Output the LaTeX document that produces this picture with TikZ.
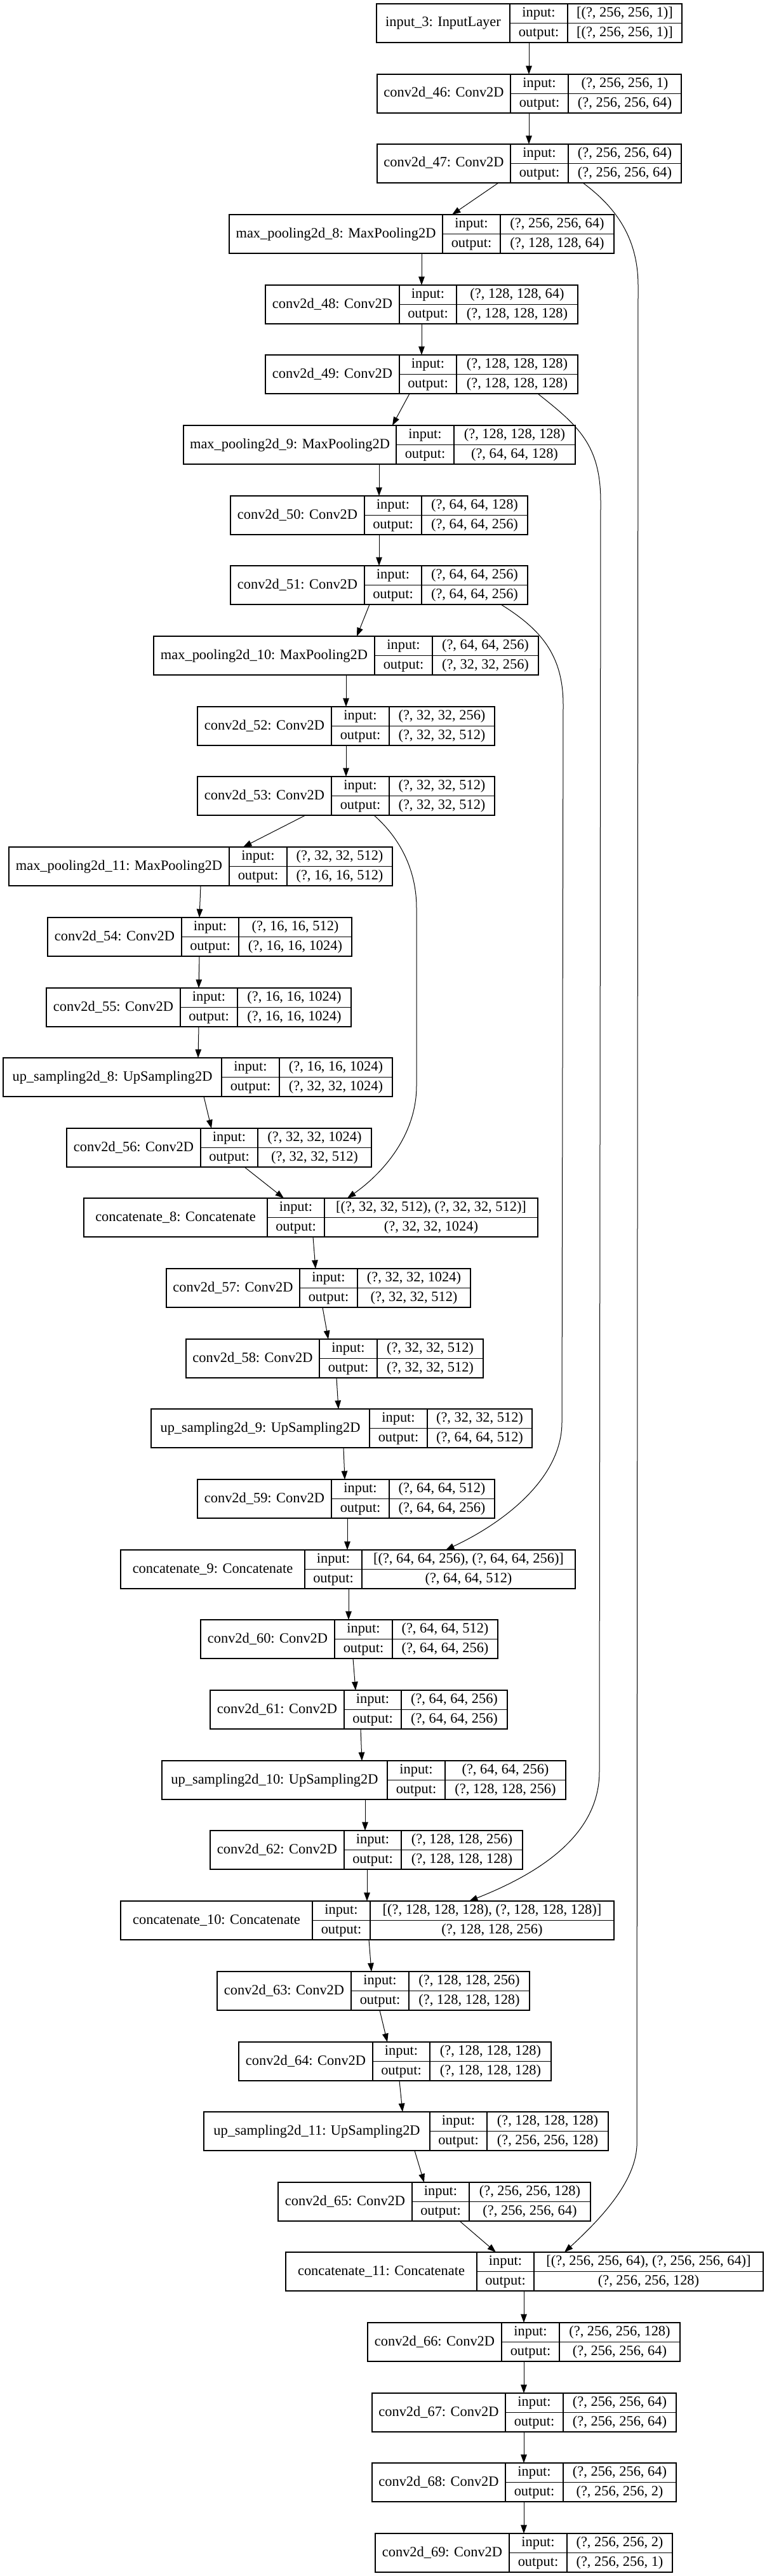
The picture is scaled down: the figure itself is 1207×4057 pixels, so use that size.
\documentclass[tikz,border=0pt]{standalone}
\usepackage{fontspec}
\setmainfont{Liberation Serif}
\usetikzlibrary{arrows.meta}

\tikzset{
  layerbox/.style={draw, line width=0.7pt, inner sep=0pt, outer sep=0pt, minimum height=30.5pt, anchor=north west},
  cell/.style={line width=0.7pt},
  txt/.style={inner sep=0pt, font=\fontsize{11.2}{13}\selectfont, text height=8pt, text depth=2.5pt},
  edge/.style={-{Triangle[length=6.7pt, width=4.8pt]}, line width=0.5pt},
}

% one layer record: name, left, split 1, split 2, right, top, label, input, output
\newcommand{\layer}[9]{%
  \pgfmathsetmacro\cellL{(#2+#3)/2}%
  \pgfmathsetmacro\cellP{(#3+#4)/2}%
  \pgfmathsetmacro\cellV{(#4+#5)/2}%
  \pgfmathsetmacro\boxW{(#5-#2)*0.5}%
  \node[layerbox, minimum width=\boxW pt] (#1) at (#2,#6) {};
  \draw[cell] (#3,0 |- #1.north) -- (#3,0 |- #1.south);
  \draw[cell] (#4,0 |- #1.north) -- (#4,0 |- #1.south);
  \draw[cell] (#3,0 |- #1.center) -- (#1.east);
  \node[txt] (#1-name) at (\cellL,0 |- #1.center) {#7};
  \node[txt] (#1-in) at (\cellP,#6+15.25) {input:};
  \node[txt] (#1-out) at (\cellP,#6+45.75) {output:};
  \node[txt] (#1-inv) at (\cellV,#6+15.25) {#8};
  \node[txt] (#1-outv) at (\cellV,#6+45.75) {#9};
}

\begin{document}
\begin{tikzpicture}[x=0.5pt, y=-0.5pt]
  \useasboundingbox (0,0) rectangle (1207,4057);
  % contracting path
  \layer{in3}{593}{803}{894}{1074}{6}{input\_3: InputLayer}{[(?, 256, 256, 1)]}{[(?, 256, 256, 1)]}
  \layer{c46}{594}{804}{895}{1073}{117}{conv2d\_46: Conv2D}{(?, 256, 256, 1)}{(?, 256, 256, 64)}
  \layer{c47}{594}{804}{895}{1073}{227}{conv2d\_47: Conv2D}{(?, 256, 256, 64)}{(?, 256, 256, 64)}
  \layer{mp8}{361}{697}{788}{967}{338}{max\_pooling2d\_8: MaxPooling2D}{(?, 256, 256, 64)}{(?, 128, 128, 64)}
  \layer{c48}{418}{629}{719}{910}{449}{conv2d\_48: Conv2D}{(?, 128, 128, 64)}{(?, 128, 128, 128)}
  \layer{c49}{418}{629}{719}{910}{559}{conv2d\_49: Conv2D}{(?, 128, 128, 128)}{(?, 128, 128, 128)}
  \layer{mp9}{289}{624}{715}{906}{670}{max\_pooling2d\_9: MaxPooling2D}{(?, 128, 128, 128)}{(?, 64, 64, 128)}
  \layer{c50}{363}{574}{664}{831}{781}{conv2d\_50: Conv2D}{(?, 64, 64, 128)}{(?, 64, 64, 256)}
  \layer{c51}{363}{574}{664}{831}{891}{conv2d\_51: Conv2D}{(?, 64, 64, 256)}{(?, 64, 64, 256)}
  \layer{mp10}{242}{590}{681}{848}{1002}{max\_pooling2d\_10: MaxPooling2D}{(?, 64, 64, 256)}{(?, 32, 32, 256)}
  \layer{c52}{311}{522}{613}{779}{1113}{conv2d\_52: Conv2D}{(?, 32, 32, 256)}{(?, 32, 32, 512)}
  \layer{c53}{311}{522}{613}{779}{1223}{conv2d\_53: Conv2D}{(?, 32, 32, 512)}{(?, 32, 32, 512)}
  \layer{mp11}{14}{361}{452}{618}{1334}{max\_pooling2d\_11: MaxPooling2D}{(?, 32, 32, 512)}{(?, 16, 16, 512)}
  \layer{c54}{75}{286}{376}{554}{1445}{conv2d\_54: Conv2D}{(?, 16, 16, 512)}{(?, 16, 16, 1024)}
  \layer{c55}{73}{284}{374}{553}{1556}{conv2d\_55: Conv2D}{(?, 16, 16, 1024)}{(?, 16, 16, 1024)}
  % expanding path
  \layer{up8}{5}{349}{440}{618}{1666}{up\_sampling2d\_8: UpSampling2D}{(?, 16, 16, 1024)}{(?, 32, 32, 1024)}
  \layer{c56}{105}{316}{406}{585}{1777}{conv2d\_56: Conv2D}{(?, 32, 32, 1024)}{(?, 32, 32, 512)}
  \layer{cat8}{132}{421}{511}{847}{1887}{concatenate\_8: Concatenate}{[(?, 32, 32, 512), (?, 32, 32, 512)]}{(?, 32, 32, 1024)}
  \layer{c57}{262}{472}{563}{741}{1998}{conv2d\_57: Conv2D}{(?, 32, 32, 1024)}{(?, 32, 32, 512)}
  \layer{c58}{293}{503}{594}{761}{2109}{conv2d\_58: Conv2D}{(?, 32, 32, 512)}{(?, 32, 32, 512)}
  \layer{up9}{238}{582}{673}{838}{2219}{up\_sampling2d\_9: UpSampling2D}{(?, 32, 32, 512)}{(?, 64, 64, 512)}
  \layer{c59}{311}{522}{613}{779}{2330}{conv2d\_59: Conv2D}{(?, 64, 64, 512)}{(?, 64, 64, 256)}
  \layer{cat9}{190}{480}{570}{906}{2441}{concatenate\_9: Concatenate}{[(?, 64, 64, 256), (?, 64, 64, 256)]}{(?, 64, 64, 512)}
  \layer{c60}{316}{527}{618}{784}{2551}{conv2d\_60: Conv2D}{(?, 64, 64, 512)}{(?, 64, 64, 256)}
  \layer{c61}{331}{542}{632}{799}{2662}{conv2d\_61: Conv2D}{(?, 64, 64, 256)}{(?, 64, 64, 256)}
  \layer{up10}{255}{610}{701}{891}{2773}{up\_sampling2d\_10: UpSampling2D}{(?, 64, 64, 256)}{(?, 128, 128, 256)}
  \layer{c62}{331}{542}{632}{823}{2883}{conv2d\_62: Conv2D}{(?, 128, 128, 256)}{(?, 128, 128, 128)}
  \layer{cat10}{190}{492}{583}{967}{2994}{concatenate\_10: Concatenate}{[(?, 128, 128, 128), (?, 128, 128, 128)]}{(?, 128, 128, 256)}
  \layer{c63}{342}{553}{644}{834}{3105}{conv2d\_63: Conv2D}{(?, 128, 128, 256)}{(?, 128, 128, 128)}
  \layer{c64}{376}{587}{677}{868}{3216}{conv2d\_64: Conv2D}{(?, 128, 128, 128)}{(?, 128, 128, 128)}
  \layer{up11}{321}{677}{767}{958}{3326}{up\_sampling2d\_11: UpSampling2D}{(?, 128, 128, 128)}{(?, 256, 256, 128)}
  \layer{c65}{438}{649}{739}{930}{3437}{conv2d\_65: Conv2D}{(?, 256, 256, 128)}{(?, 256, 256, 64)}
  \layer{cat11}{450}{751}{841}{1202}{3547}{concatenate\_11: Concatenate}{[(?, 256, 256, 64), (?, 256, 256, 64)]}{(?, 256, 256, 128)}
  \layer{c66}{579}{790}{881}{1071}{3658}{conv2d\_66: Conv2D}{(?, 256, 256, 128)}{(?, 256, 256, 64)}
  \layer{c67}{586}{796}{887}{1065}{3769}{conv2d\_67: Conv2D}{(?, 256, 256, 64)}{(?, 256, 256, 64)}
  \layer{c68}{586}{796}{887}{1065}{3879}{conv2d\_68: Conv2D}{(?, 256, 256, 64)}{(?, 256, 256, 2)}
  \layer{c69}{591}{802}{893}{1059}{3990}{conv2d\_69: Conv2D}{(?, 256, 256, 2)}{(?, 256, 256, 1)}
  % main chain
  \foreach \a/\b/\xa/\xb in {in3/c46/833/833, c46/c47/833/833, c47/mp8/785/712,
      mp8/c48/664/664, c48/c49/664/664, c49/mp9/645/618, mp9/c50/597/597,
      c50/c51/597/597, c51/mp10/582/562, mp10/c52/545/545, c52/c53/545/545,
      c53/mp11/481/383, mp11/c54/316/314, c54/c55/314/313, c55/up8/313/312,
      up8/c56/321/333, c56/cat8/385/447, cat8/c57/493/497, c57/c58/508/517,
      c58/up9/530/533, up9/c59/541/543, c59/cat9/547/547, cat9/c60/549/549,
      c60/c61/556/560, c61/up10/568/570, up10/c62/575/575, c62/cat10/578/578,
      cat10/c63/581/585, c63/c64/598/610, c64/up11/629/634, up11/c65/653/668,
      c65/cat11/724/781, cat11/c66/825/825, c66/c67/825/825, c67/c68/825/825,
      c68/c69/825/825}
    \draw[edge] (\xa,0 |- \a.south) -- (\xb,0 |- \b.north);
  % skip connections
  \draw[edge] (918,0 |- c47.south) .. controls (975,330) and (1005,380) .. (1005,450)
    -- (1003,3380) .. controls (1000,3440) and (940,3500) .. (889,0 |- cat11.north);
  \draw[edge] (847,0 |- c49.south) .. controls (910,670) and (946,700) .. (946,790)
    -- (944,2790) .. controls (944,2890) and (850,2950) .. (739,0 |- cat10.north);
  \draw[edge] (789,0 |- c51.south) .. controls (850,990) and (887,1030) .. (887,1110)
    -- (885,2240) .. controls (885,2330) and (790,2400) .. (702,0 |- cat9.north);
  \draw[edge] (589,0 |- c53.south) .. controls (630,1320) and (656,1370) .. (656,1430)
    -- (656,1710) .. controls (656,1790) and (600,1850) .. (547,0 |- cat8.north);
\end{tikzpicture}
\end{document}
